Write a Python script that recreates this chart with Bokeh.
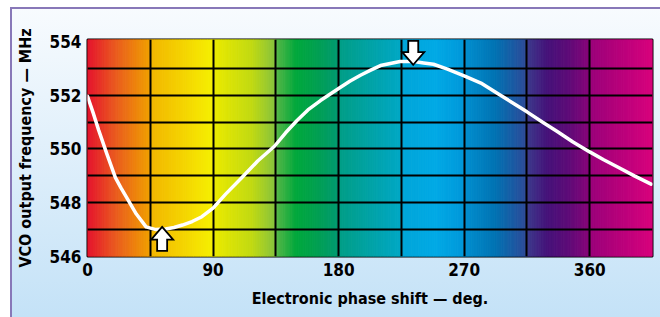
import numpy as np
from bokeh.plotting import figure
from bokeh.models import Range1d, FixedTicker
from bokeh.embed import file_html
from bokeh.resources import INLINE

# ---- data ----
phase_deg = [0, 4, 8, 14, 20, 24, 28, 35, 42, 49, 56, 62, 68, 75, 82, 90, 99,
             110, 122, 134, 142, 150, 158, 167, 180, 188, 196, 203, 210, 217,
             224, 234, 241, 248, 258, 270, 282, 294, 304, 315, 326, 337, 348,
             360, 370, 380, 392, 404]
freq_mhz = [551.96, 551.35, 550.7, 549.8, 548.93, 548.55, 548.2, 547.58, 547.1,
            547.0, 547.02, 547.08, 547.17, 547.3, 547.48, 547.8, 548.32, 548.9,
            549.55, 550.1, 550.6, 551.05, 551.45, 551.8, 552.25, 552.52, 552.75,
            552.93, 553.1, 553.18, 553.25, 553.25, 553.2, 553.15, 552.97, 552.72,
            552.45, 552.06, 551.74, 551.38, 551.0, 550.64, 550.26, 549.89, 549.6,
            549.33, 549.0, 548.69]
x_ticks = [0, 90, 180, 270, 360]
y_ticks = [546, 548, 550, 552, 554]
x_grid = [45, 90, 135, 180, 225, 270, 315, 360]
y_grid = [547, 548, 549, 550, 551, 552, 553]
marker_deg = [53.5, 233.5]       # min / max markers
marker_mhz = [547.1, 553.13]
marker_up = [True, False]

X0, X1 = 0, 405
Y0, Y1 = 546, 554.07

# spectrum stops (deg, colour)
stops = [
    (0, "#e5122e"), (20, "#ea5a20"), (45, "#f0a000"), (45.5, "#f3b600"),
    (90, "#f6f000"), (90.5, "#eceb00"), (118, "#c2da12"), (135, "#86c33e"),
    (135.5, "#58b848"), (150, "#00a83c"), (165, "#00a052"), (180, "#009a72"),
    (180.5, "#009e86"), (225, "#00a8c6"), (225.5, "#00a6d8"), (250, "#00aae6"),
    (270, "#0098da"), (270.5, "#0090d0"), (292, "#0074b4"), (315, "#2e4a98"),
    (315.5, "#3c3a8c"), (330, "#46127a"), (345, "#5e0c78"), (360, "#880478"),
    (360.5, "#9a007a"), (405, "#d8007c"),
]

W, H = 660, 317
ML, MR, MT, MB = 87, 8, 39, 61
FW, FH = W - ML - MR, H - MT - MB

FONT = "'Liberation Sans Narrow', 'DejaVu Sans Condensed', 'Arial Narrow', sans-serif"
PURPLE = "#8878b8"

p = figure(width=W, height=H, x_range=Range1d(X0, X1), y_range=Range1d(Y0, Y1),
           output_backend="svg", toolbar_location=None,
           min_border_left=ML, min_border_right=MR, min_border_top=MT,
           min_border_bottom=MB, border_fill_color=None,
           outline_line_color="black", outline_line_width=2,
           styles={
               "background":
                   "linear-gradient(to bottom, #ffffff 7px, transparent 7px), "
                   f"linear-gradient(to right, #ffffff 10px, {PURPLE} 10px, {PURPLE} 12px, transparent 12px), "
                   f"linear-gradient(to bottom, transparent 7px, {PURPLE} 7px, {PURPLE} 9px, transparent 9px), "
                   "linear-gradient(to bottom, #f8fbfe 7px, #c4e2f7)"
           })


def hex2rgb(h):
    h = h.lstrip("#")
    return np.array([int(h[i:i + 2], 16) for i in (0, 2, 4)], dtype=float)


sx = np.array([s[0] for s in stops])
sc = np.array([hex2rgb(s[1]) for s in stops])
lefts = np.arange(X0, X1, 1.0)
mids = lefts + 0.5
cols = []
for m in mids:
    r = np.interp(m, sx, sc[:, 0])
    g = np.interp(m, sx, sc[:, 1])
    b = np.interp(m, sx, sc[:, 2])
    cols.append("#%02x%02x%02x" % (int(r), int(g), int(b)))

bg = p.quad(left=lefts, right=lefts + 1.0, bottom=Y0, top=Y1,
            fill_color=cols, line_color=cols, line_width=1)
bg.level = "image"

# grid
p.xgrid.ticker = FixedTicker(ticks=x_grid)
p.ygrid.ticker = FixedTicker(ticks=y_grid)
for g in (p.xgrid, p.ygrid):
    g.grid_line_color = "black"
    g.grid_line_width = 2
    g.grid_line_alpha = 1

# curve
p.line(phase_deg, freq_mhz, line_color="white", line_width=3.5,
       line_join="round", line_cap="round")

# arrows (built in pixel units, converted to data units)
dx = (X1 - X0) / FW
dy = (Y1 - Y0) / FH
xs, ys = [], []
for mx, my, up in zip(marker_deg, marker_mhz, marker_up):
    s = 1 if up else -1
    hw, sw, hl, tl = 11, 5, 12.7, 24
    pts = [(0, 0), (hw, -hl), (sw, -hl), (sw, -tl), (-sw, -tl), (-sw, -hl), (-hw, -hl)]
    xs.append([mx + px_ * dx for px_, _ in pts])
    ys.append([my + s * py_ * dy for _, py_ in pts])
p.patches(xs, ys, fill_color="white", line_color="black", line_width=1.8,
          line_join="miter")

# axes
p.xaxis.ticker = FixedTicker(ticks=x_ticks)
p.yaxis.ticker = FixedTicker(ticks=y_ticks)
for ax in (p.xaxis[0], p.yaxis[0]):
    ax.axis_line_color = None
    ax.major_tick_line_color = None
    ax.minor_tick_line_color = None
    ax.major_tick_out = 0
    ax.major_tick_in = 0
    ax.major_label_text_font = FONT
    ax.major_label_text_font_style = "bold"
    ax.major_label_text_font_size = "17px"
    ax.major_label_text_color = "black"
    ax.axis_label_text_font = FONT
    ax.axis_label_text_font_style = "bold"
    ax.axis_label_text_font_size = "16px"
    ax.axis_label_text_color = "black"
    ax.major_label_standoff = 6

p.xaxis.axis_label = "Electronic phase shift — deg."
p.yaxis.axis_label = "VCO output frequency — MHz"
p.xaxis.axis_label_standoff = 10
p.yaxis.axis_label_standoff = 12

open("out.html", "w").write(file_html(p, INLINE))
